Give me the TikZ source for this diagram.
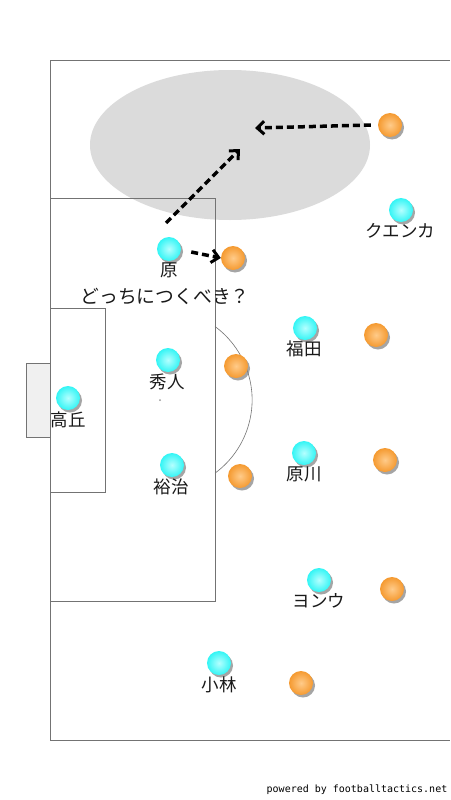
\documentclass[tikz,border=0pt]{standalone}
\usepackage{fontspec}
\newfontfamily\jp{Noto Sans CJK JP}
\newfontfamily\mono{DejaVu Sans Mono}
\usetikzlibrary{arrows.meta,shadows}
\definecolor{cy}{HTML}{33F5F5}
\definecolor{cyl}{HTML}{B5FFFF}
\definecolor{og}{HTML}{F59A30}
\definecolor{ogl}{HTML}{FFCB8A}
\begin{document}
\begin{tikzpicture}[x=1pt,y=-1pt,
  line/.style={draw=black!55,line width=0.6pt},
  bl/.style={circle,minimum size=24pt,inner sep=0pt,inner color=cyl,outer color=cy,
     drop shadow={shadow xshift=2pt,shadow yshift=-2.5pt,opacity=0.7}},
  og/.style={circle,minimum size=24pt,inner sep=0pt,inner color=ogl,outer color=og,
     drop shadow={shadow xshift=2pt,shadow yshift=-2.5pt,opacity=0.7}},
  lab/.style={font=\jp\fontsize{17.5}{17.5}\selectfont,text=black!90,inner sep=0pt},
  mv/.style={line width=3.5pt,dash pattern=on 7pt off 4pt,-{Straight Barb[length=7pt,width=13pt,line width=3pt]}}]
\useasboundingbox (0,0) rectangle (450,800);
\fill[white] (0,0) rectangle (450,800);
% ellipse zone
\fill[black!14] (230,145) ellipse [x radius=140, y radius=75];
% field
\draw[line] (450,60) -- (50,60) -- (50,740) -- (450,740);
\draw[line] (50,198) rectangle (215,601);
\draw[line] (50,308) rectangle (105,492);
\draw[line,fill=black!6] (50,363) -- (26,363) -- (26,437) -- (50,437);
\draw[line] (215,326.5) arc[start angle=-53.7,end angle=53.7,radius=91] ;
\fill[black!40] (160,400) circle (1pt);
% players
\node[bl] (hara) at (169,249) {};
\node[bl] (hideto) at (168,360) {};
\node[bl] (takaoka) at (68,398) {};
\node[bl] (yuji) at (172,465) {};
\node[bl] (fukuda) at (305,328) {};
\node[bl] (harakawa) at (304,453) {};
\node[bl] (yongu) at (319,580) {};
\node[bl] (kobayashi) at (219,663) {};
\node[bl] (cuenca) at (401,210) {};
\node[og] (o1) at (390,125) {};
\node[og] (o2) at (233,258) {};
\node[og] (o3) at (376,335) {};
\node[og] (o4) at (236,366) {};
\node[og] (o5) at (240,476) {};
\node[og] (o6) at (385,460) {};
\node[og] (o7) at (392,589) {};
\node[og] (o8) at (301,683) {};
% labels
\node[lab] (lhara) at (169,270) {原};
\node[lab] (lhideto) at (167,382) {秀人};
\node[lab] (ltakaoka) at (68,420) {高丘};
\node[lab] (lyuji) at (171,487) {裕治};
\node[lab] (lfukuda) at (304,349) {福田};
\node[lab] (lharakawa) at (304,474) {原川};
\node[lab] (lyongu) at (319,601) {ヨンウ};
\node[lab] (lkobayashi) at (219,685) {小林};
\node[lab] (lcuenca) at (400,231) {クエンカ};
\node[lab,font=\jp\fontsize{18.8}{18.8}\selectfont] (q) at (165,296) {どっちにつくべき？};
% arrows
\coordinate (t1) at (255,128);
\coordinate (s2) at (166,223);
\coordinate (t2) at (240,149);
\draw[mv] (o1.west) ++(-7,0) -- (t1);
\draw[mv] (s2) -- (t2);
\draw[mv] (hara.east) ++(10,3) -- (o2.west);
% footer
\node[font=\mono\fontsize{10}{10}\selectfont,inner sep=0pt] (foot) at (357,790) {powered by footballtactics.net};
\end{tikzpicture}
\end{document}
